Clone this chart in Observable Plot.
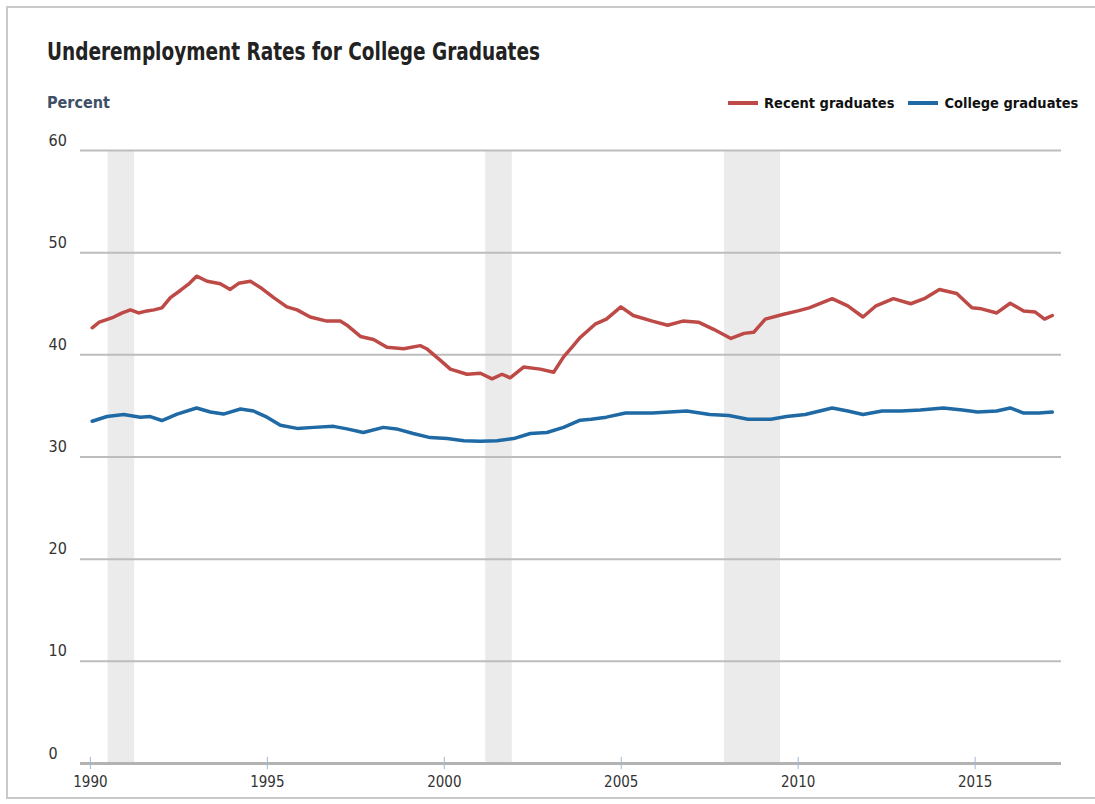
<!DOCTYPE html>
<html>
<head>
<meta charset="utf-8">
<script src="https://cdn.jsdelivr.net/npm/d3@7"></script>
<script src="https://cdn.jsdelivr.net/npm/@observablehq/plot@0.6"></script>
<style>
  html, body { margin: 0; padding: 0; background: #fff; overflow: hidden; }
  #wrap { position: relative; width: 1095px; height: 804px; overflow: hidden; }
  #frame { position: absolute; left: 6px; top: 6px; width: 1200px; height: 793px;
           border: 2px solid #c9c9c9; box-sizing: border-box; }
  .cond { font-family: "DejaVu Sans Condensed", "Liberation Sans", sans-serif; }
  #title { position: absolute; left: 47px; top: 38px; font-size: 24px; font-weight: bold; color: #222;
           white-space: nowrap; transform-origin: 0 0; }
  #unit { position: absolute; left: 47px; top: 94px; font-size: 15px; font-weight: bold; color: #3d5066;
          white-space: nowrap; transform-origin: 0 0; }
  #legend { position: absolute; left: 728px; top: 95px;
            font-size: 14.5px; font-weight: bold; color: #111; white-space: nowrap; display: flex; align-items: center; }
  .sw { display: inline-block; width: 30px; height: 4px; margin-right: 6px; }
  .item { display: inline-flex; align-items: center; margin-right: 14px; }
  #chart { position: absolute; left: 0; top: 120px; }
</style>
</head>
<body>
<div id="wrap">
  <div id="frame"></div>
  <div id="title" class="cond">Underemployment Rates for College Graduates</div>
  <div id="unit" class="cond">Percent</div>
  <div id="legend" class="cond"></div>
  <div id="chart"></div>
</div>
<script>
// ---- data ----
const recentYears = [1990.05,1990.25,1990.42,1990.66,1990.9,1991.13,1991.36,1991.6,1991.8,1992.02,1992.26,1992.54,1992.8,1993.0,1993.3,1993.67,1993.95,1994.19,1994.52,1994.8,1995.18,1995.55,1995.84,1996.21,1996.68,1997.06,1997.25,1997.63,1998.0,1998.38,1998.85,1999.32,1999.5,1999.89,2000.17,2000.64,2001.02,2001.35,2001.63,2001.86,2002.24,2002.71,2003.09,2003.37,2003.61,2003.84,2004.26,2004.58,2004.99,2005.34,2005.88,2006.31,2006.74,2007.18,2007.61,2008.1,2008.47,2008.74,2009.07,2009.56,2009.99,2010.31,2010.96,2011.4,2011.83,2012.2,2012.69,2013.18,2013.56,2013.99,2014.48,2014.91,2015.18,2015.61,2015.99,2016.37,2016.69,2016.96,2017.18];
const recentValues = [42.65,43.2,43.4,43.7,44.1,44.4,44.1,44.3,44.4,44.6,45.6,46.3,47.0,47.7,47.2,46.95,46.4,47.0,47.2,46.6,45.6,44.7,44.4,43.7,43.3,43.3,42.9,41.8,41.5,40.75,40.6,40.9,40.6,39.45,38.6,38.1,38.2,37.65,38.1,37.75,38.8,38.6,38.3,39.8,40.75,41.7,43.0,43.5,44.7,43.85,43.3,42.9,43.3,43.2,42.5,41.6,42.1,42.2,43.5,43.95,44.3,44.6,45.5,44.8,43.7,44.8,45.5,45.0,45.5,46.4,46.0,44.6,44.5,44.1,45.05,44.3,44.2,43.5,43.85];
const collegeYears = [1990.05,1990.47,1990.94,1991.41,1991.69,1992.02,1992.45,1993.0,1993.39,1993.76,1994.24,1994.61,1994.99,1995.37,1995.84,1996.31,1996.87,1997.25,1997.71,1998.28,1998.65,1999.12,1999.6,2000.08,2000.55,2001.02,2001.49,2001.96,2002.43,2002.9,2003.37,2003.84,2004.15,2004.58,2005.12,2005.88,2006.85,2007.5,2008.04,2008.58,2009.23,2009.67,2010.2,2010.96,2011.4,2011.83,2012.37,2012.91,2013.45,2014.1,2014.64,2015.07,2015.61,2015.99,2016.37,2016.8,2017.18];
const collegeValues = [33.5,33.96,34.16,33.9,33.96,33.57,34.2,34.8,34.4,34.2,34.7,34.5,33.9,33.1,32.8,32.9,33.0,32.75,32.4,32.9,32.75,32.3,31.9,31.8,31.6,31.55,31.6,31.8,32.3,32.4,32.9,33.6,33.7,33.9,34.3,34.3,34.5,34.16,34.06,33.7,33.7,33.96,34.16,34.8,34.5,34.16,34.5,34.5,34.6,34.8,34.6,34.4,34.5,34.8,34.3,34.3,34.4];
const recessionStart = [1990.5, 2001.17, 2007.92];
const recessionEnd = [1991.25, 2001.92, 2009.5];
const xTicks = [1990, 1995, 2000, 2005, 2010, 2015];
const yTicks = [0, 10, 20, 30, 40, 50, 60];
const seriesNames = ["Recent graduates", "College graduates"];
const seriesColors = ["#bd4a46", "#1f6aa5"];

// ---- build tables ----
const recent = recentYears.map((x, i) => ({x, y: recentValues[i]}));
const college = collegeYears.map((x, i) => ({x, y: collegeValues[i]}));
const recessions = recessionStart.map((s, i) => ({x1: s, x2: recessionEnd[i]}));

// fit title / unit widths to the reference
function fitWidth(id, w) {
  const el = document.getElementById(id);
  const cur = el.getBoundingClientRect().width;
  if (cur > 0) el.style.transform = `scaleX(${w / cur})`;
}
fitWidth("title", 493);
fitWidth("unit", 63);

// legend
const legend = document.getElementById("legend");
seriesNames.forEach((n, i) => {
  const it = document.createElement("span");
  it.className = "item";
  it.innerHTML = `<span class="sw" style="background:${seriesColors[i]}"></span>${n}`;
  legend.appendChild(it);
});

const chart = Plot.plot({
  width: 1095,
  height: 680,
  marginLeft: 80,
  marginRight: 34,
  marginTop: 30,
  marginBottom: 37,
  style: {fontFamily: '"DejaVu Sans Condensed", "Liberation Sans", sans-serif', fontSize: "15px", color: "#333", background: "transparent"},
  x: {domain: [1989.72, 2017.44], nice: false, label: null},
  y: {domain: [0, 60], label: null},
  marks: [
    Plot.rect(recessions, {x1: "x1", x2: "x2", y1: 0, y2: 60, fill: "#ebebeb"}),
    Plot.ruleY(yTicks.filter(d => d > 0), {stroke: "#bdbdbd", strokeWidth: 2}),
    Plot.ruleY([0], {stroke: "#b3b3b3", strokeWidth: 3}),
    Plot.ruleX(xTicks, {y1: 0.6, y2: -0.6, stroke: "#9dbad6", strokeWidth: 1}),
    Plot.line(recent, {x: "x", y: "y", stroke: seriesColors[0], strokeWidth: 3.5}),
    Plot.line(college, {x: "x", y: "y", stroke: seriesColors[1], strokeWidth: 3.5}),
    Plot.axisY(yTicks, {tickSize: 0, tickPadding: 32, textAnchor: "start", dy: -10, fill: "#333", fontSize: 16, label: null}),
    Plot.axisX(xTicks, {tickSize: 0, tickPadding: 13, fill: "#333", fontSize: 15, label: null, tickFormat: d => String(d)})
  ]
});
document.getElementById("chart").appendChild(chart);
</script>
</body>
</html>
